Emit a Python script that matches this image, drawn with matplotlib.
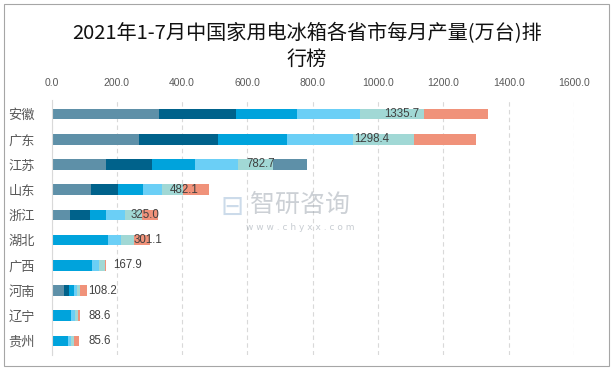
import matplotlib
matplotlib.use('Agg')
from matplotlib import pyplot as plt
from matplotlib.patches import Rectangle
import numpy as np

# 各省市数据（万台）
provinces = ['安徽', '广东', '江苏', '山东', '浙江', '湖北', '广西', '河南', '辽宁', '贵州']
totals = [1335.7, 1298.4, 782.7, 482.1, 325.0, 301.1, 167.9, 108.2, 88.6, 85.6]
s1 = [327.7, 266.5, 166.0, 119.5, 57.9, 0, 0, 37.7, 0, 0]
s2 = [237.4, 244.2, 142.7, 84.6, 61.0, 0, 0, 15.3, 0, 0]
s3 = [186.3, 209.7, 129.4, 76.6, 46.7, 171.5, 123.5, 16.3, 59.5, 50.0]
s4 = [193.4, 202.4, 134.5, 56.4, 60.0, 40.7, 22.6, 10.2, 13.5, 9.4]
s5 = [195.5, 186.2, 104.9, 66.2, 51.8, 39.8, 18.6, 8.2, 7.2, 8.4]
s6 = [195.4, 189.4, 0, 78.8, 47.6, 49.1, 3.2, 20.5, 8.4, 17.8]
s7 = [0, 0, 105.2, 0, 0, 0, 0, 0, 0, 0]
label_at = [1071, 980, 641, 406, 285, 296, 233, 157, 147, 147]
x_ticks = [0, 200, 400, 600, 800, 1000, 1200, 1400, 1600]

series = [s1, s2, s3, s4, s5, s6, s7]
colors = ['#5e90a8', '#00628b', '#00a3dc', '#6bcff6', '#a1d8d5', '#f0927a', '#5e90a8']

W, H = 615, 372
fig = plt.figure(figsize=(W / 100, H / 100), dpi=100)
fig.patches.append(Rectangle((3.5 / W, 1 - 366 / H), (609 - 3.5) / W, (366 - 4) / H,
                             transform=fig.transFigure, fill=False,
                             edgecolor='#a6a6a6', lw=0.8))

ax = fig.add_axes([51.5 / W, 1 - 355 / H, (574 - 51.5) / W, (355 - 100) / H])
y = np.arange(len(provinces))
left = np.zeros(len(provinces))
for vals, c in zip(series, colors):
    ax.barh(y, vals, left=left, height=0.42, color=c, zorder=2)
    left += np.array(vals)

for i, t in enumerate(totals):
    ax.text(label_at[i], y[i], f"{t:.1f}", ha='center', va='center',
            fontsize=8.3, color='#404040', family='Liberation Sans', zorder=4)

ax.set_xlim(0, 1600)
ax.set_ylim(len(provinces) - 0.444, -0.556)
ax.set_xticks(x_ticks)
ax.set_xticklabels([f"{v:.1f}" for v in x_ticks], family='Liberation Sans',
                   fontsize=7.5, color='#595959')
ax.xaxis.tick_top()
ax.set_yticks(y)
ax.set_yticklabels(provinces, family=['Noto Sans CJK SC', 'DejaVu Sans'],
                   fontsize=9.5, color='#595959')
ax.tick_params(axis='x', length=0, pad=9)
ax.tick_params(axis='y', length=0, pad=12)
ax.grid(axis='x', color='#d9d9d9', linestyle=(0, (4, 3)), lw=0.8, zorder=0)
for s in ['top', 'right', 'bottom']:
    ax.spines[s].set_visible(False)
ax.spines['left'].set_color('#d9d9d9')

fig.text(307 / W, 1 - 34 / H, '2021年1-7月中国家用电冰箱各省市每月产量(万台)排',
         ha='center', va='center', fontsize=14.5, weight='medium', color='#111111',
         family=['Noto Sans CJK SC', 'DejaVu Sans'])
fig.text(307 / W, 1 - 59 / H, '行榜', ha='center', va='center', fontsize=14.5,
         weight='medium', color='#111111', family=['Noto Sans CJK SC', 'DejaVu Sans'])

# 水印
fig.text(300 / W, 1 - 205 / H, '智研咨询', ha='center', va='center', fontsize=18,
         color='#9aa3ad', alpha=0.5, family=['Noto Sans CJK SC', 'DejaVu Sans'], zorder=5)
fig.text(300 / W, 1 - 227 / H, 'w w w . c h y x x . c o m', ha='center', va='center',
         fontsize=6.5, color='#9aa3ad', alpha=0.55, family='DejaVu Sans', zorder=5)
fig.text(232 / W, 1 - 207 / H, '⊟', ha='center', va='center', fontsize=20,
         color='#aac4dc', alpha=0.6, family='DejaVu Sans', zorder=5)

fig.savefig('out.png', dpi=100)
